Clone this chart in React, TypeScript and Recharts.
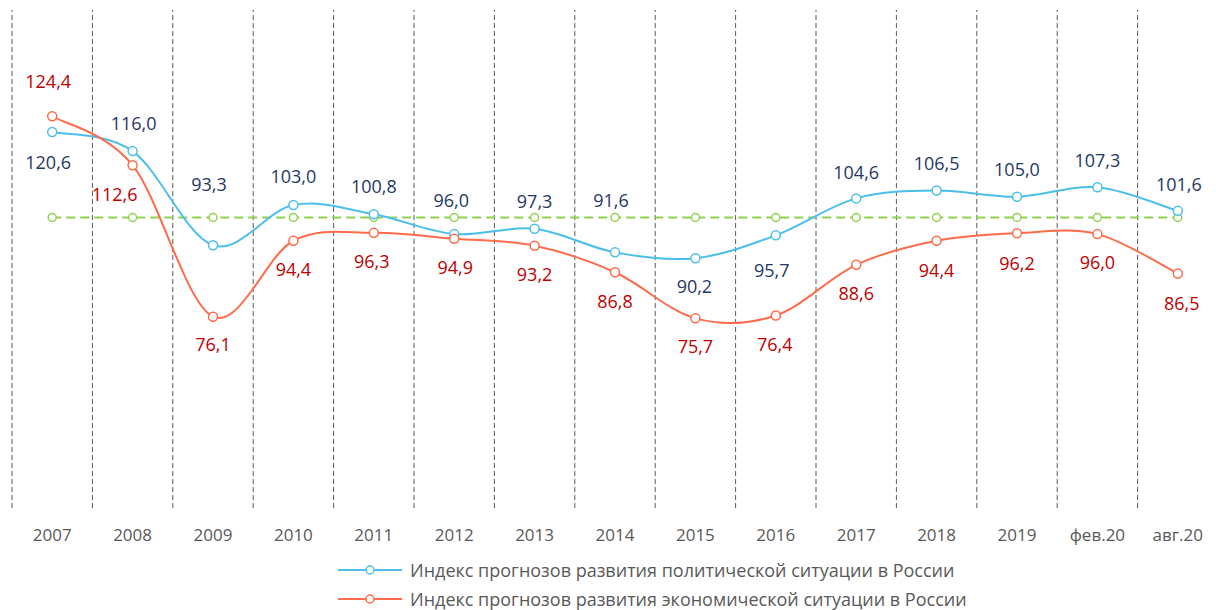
import React from 'react';
import { LineChart, Line, XAxis, YAxis, ReferenceLine, LabelList, Legend } from 'recharts';

const categories = ['2007', '2008', '2009', '2010', '2011', '2012', '2013', '2014', '2015', '2016', '2017', '2018', '2019', 'фев.20', 'авг.20'];
const politicalValues = [120.6, 116.0, 93.3, 103.0, 100.8, 96.0, 97.3, 91.6, 90.2, 95.7, 104.6, 106.5, 105.0, 107.3, 101.6];
const economicValues = [124.4, 112.6, 76.1, 94.4, 96.3, 94.9, 93.2, 86.8, 75.7, 76.4, 88.6, 94.4, 96.2, 96.0, 86.5];
const baselineValues = [100, 100, 100, 100, 100, 100, 100, 100, 100, 100, 100, 100, 100, 100, 100];
const seriesNames = [
  'Индекс прогнозов развития политической ситуации в России',
  'Индекс прогнозов развития экономической ситуации в России',
];

// label placement (pixel offsets from the point)
const polLabelDx = [-4, 1, -4, 0, 0, -3, 0, -4, -1, -4, 0, 0, 0, 0, 1];
const polLabelDy = [31, -27, -61, -28, -27, -33, -27, -52, 29, 35, -26, -27, -27, -27, -26];
const ecoLabelDx = [-4, -18, 0, 0, -2, 1, 0, 0, 0, -1, 0, 0, 0, 0, 4];
const ecoLabelDy = [-35, 29, 28, 29, 29, 29, 29, 29, 28, 29, 29, 30, 30, 29, 30];

const data = categories.map((c, i) => ({
  idx: i,
  cat: c,
  pol: politicalValues[i],
  eco: economicValues[i],
  base: baselineValues[i],
}));

const BLUE = '#4BBFEA';
const RED = '#FF6B4B';
const GREEN = '#92D050';
const FONT = '"Open Sans", "Noto Sans", sans-serif';

// Catmull-Rom style smoothing similar to spreadsheet smoothed lines
const smoothCurve: any = (context: any) => {
  let pts: number[][] = [];
  return {
    areaStart() {},
    areaEnd() {},
    lineStart() {
      pts = [];
    },
    point(x: number, y: number) {
      pts.push([+x, +y]);
    },
    lineEnd() {
      const n = pts.length;
      if (!n) return;
      context.moveTo(pts[0][0], pts[0][1]);
      for (let i = 0; i < n - 1; i++) {
        const p0 = pts[Math.max(i - 1, 0)];
        const p1 = pts[i];
        const p2 = pts[i + 1];
        const p3 = pts[Math.min(i + 2, n - 1)];
        context.bezierCurveTo(
          p1[0] + (p2[0] - p0[0]) / 6,
          p1[1] + (p2[1] - p0[1]) / 6,
          p2[0] - (p3[0] - p1[0]) / 6,
          p2[1] - (p3[1] - p1[1]) / 6,
          p2[0],
          p2[1]
        );
      }
    },
  };
};

const fmt = (v: number) => v.toFixed(1).replace('.', ',');

const makeLabel = (dxArr: number[], dyArr: number[], color: string) => (props: any) => {
  const { x, y, value, index } = props;
  if (x == null || y == null || value == null) return null;
  return (
    <text
      key={`lbl-${index}`}
      x={x + (dxArr[index] || 0)}
      y={y + (dyArr[index] || 0)}
      dy="0.35em"
      textAnchor="middle"
      fill={color}
      fontSize={18}
      fontFamily={FONT}
    >
      {fmt(Number(value))}
    </text>
  );
};

const LegendContent = () => (
  <div style={{ width: 1216, height: 60, transform: 'translateY(5px)', fontFamily: FONT, fontSize: 18, color: '#595959' }}>
    {[BLUE, RED].map((c, i) => (
      <div key={i} style={{ height: 29, display: 'flex', alignItems: 'center', paddingLeft: 338 }}>
        <svg width={64} height={12} style={{ marginRight: 8 }}>
          <line x1={0} y1={6} x2={64} y2={6} stroke={c} strokeWidth={2} />
          <circle cx={32} cy={6} r={4} fill="#fff" stroke={c} strokeWidth={1.5} />
        </svg>
        <span style={{ whiteSpace: 'nowrap', lineHeight: '18px' }}>{seriesNames[i]}</span>
      </div>
    ))}
  </div>
);

export default function App() {
  return (
    <div style={{ position: 'absolute', left: 0, top: 0, width: 1216, height: 610, background: '#fff', overflow: 'hidden' }}>
      <LineChart width={1216} height={610} data={data} margin={{ top: 10, right: -2, left: 12, bottom: 0 }}>
        <XAxis
          dataKey="idx"
          type="number"
          domain={[-0.5, 14.5]}
          ticks={categories.map((_, i) => i)}
          tickFormatter={(v: number) => categories[v]}
          axisLine={false}
          tickLine={false}
          tickSize={6}
          tickMargin={15}
          height={42}
          interval={0}
          tick={{ fill: '#595959', fontSize: 17, fontFamily: FONT }}
        />
        <YAxis hide domain={[30, 150]} type="number" />
        {categories.map((_, i) => (
          <ReferenceLine key={`g${i}`} x={i - 0.5} stroke="#595959" strokeWidth={1} strokeDasharray="5 3" ifOverflow="visible" />
        ))}
        <Legend verticalAlign="bottom" align="left" content={<LegendContent />} wrapperStyle={{ left: 0, width: 1216 }} />
        <Line
          dataKey="base"
          stroke={GREEN}
          strokeWidth={2}
          strokeDasharray="9 5"
          type="linear"
          dot={{ r: 4, fill: '#fff', stroke: GREEN, strokeWidth: 1.5, strokeDasharray: '' }}
          isAnimationActive={false}
          legendType="none"
        />
        <Line
          dataKey="pol"
          name={seriesNames[0]}
          stroke={BLUE}
          strokeWidth={2}
          type={smoothCurve}
          dot={{ r: 4.5, fill: '#fff', stroke: BLUE, strokeWidth: 1.5 }}
          isAnimationActive={false}
        >
          <LabelList dataKey="pol" content={makeLabel(polLabelDx, polLabelDy, '#1F3864')} />
        </Line>
        <Line
          dataKey="eco"
          name={seriesNames[1]}
          stroke={RED}
          strokeWidth={2}
          type={smoothCurve}
          dot={{ r: 4.5, fill: '#fff', stroke: RED, strokeWidth: 1.5 }}
          isAnimationActive={false}
        >
          <LabelList dataKey="eco" content={makeLabel(ecoLabelDx, ecoLabelDy, '#C00000')} />
        </Line>
      </LineChart>
    </div>
  );
}
